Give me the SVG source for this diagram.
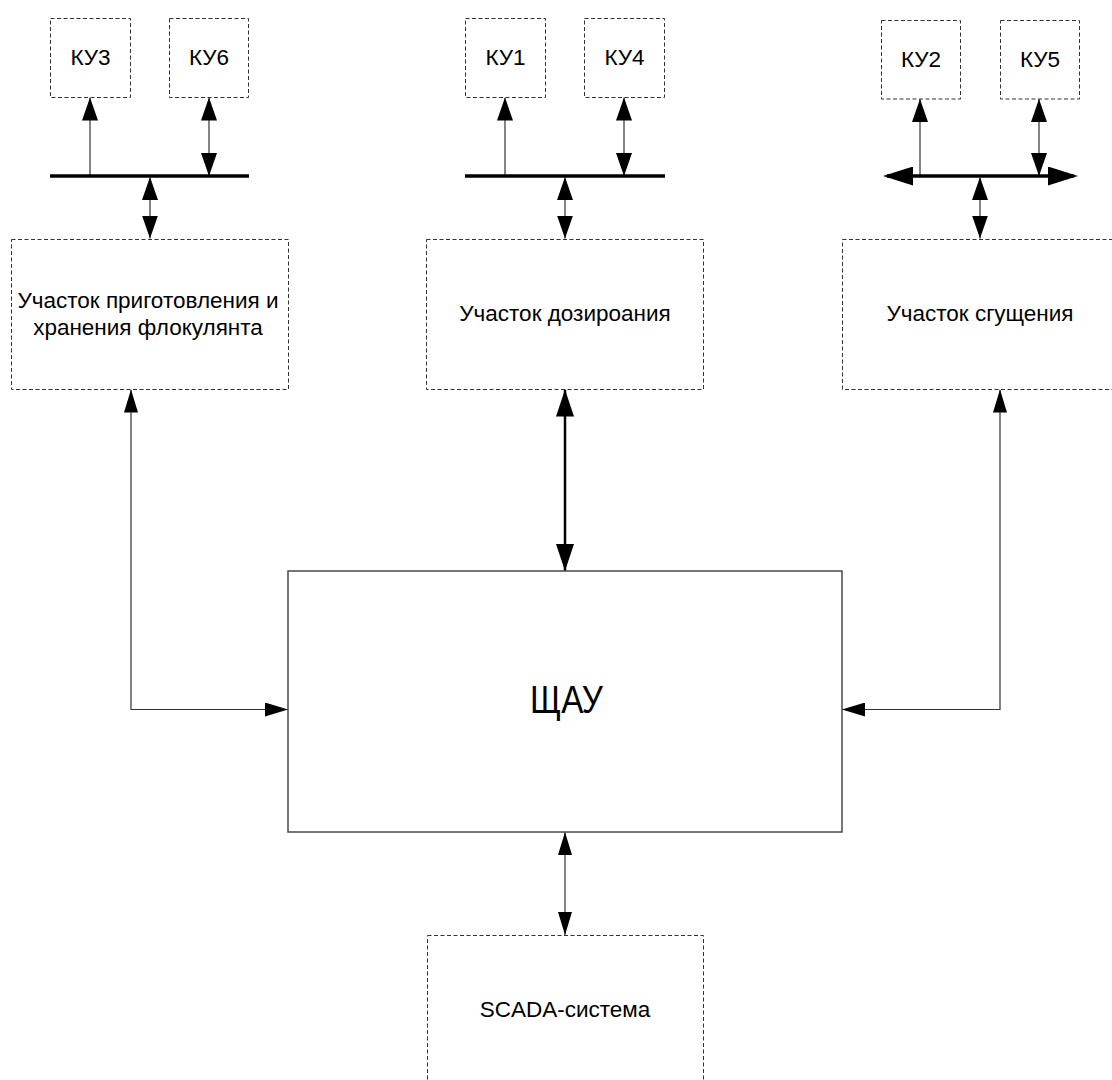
<svg xmlns="http://www.w3.org/2000/svg" width="1112" height="1080" viewBox="0 0 1112 1080">
<style>
  .dbox { fill: #ffffff; stroke: #333333; stroke-width: 1; stroke-dasharray: 4 2.5; }
  .sbox { fill: #ffffff; stroke: #4a4a4a; stroke-width: 1.5; }
  .lbl { font-family: "Liberation Sans", Arial, sans-serif; font-size: 22.5px; fill: #000000; text-anchor: middle; }
  .big { font-family: "Liberation Sans", Arial, sans-serif; font-size: 38px; fill: #000000; text-anchor: middle; }
  .thin { fill: none; stroke: #333333; stroke-width: 1.2; }
  .bus { fill: none; stroke: #000000; stroke-width: 3.5; }
  .thick { fill: none; stroke: #000000; stroke-width: 2.5; }
</style>
<defs>
  <marker id="a" markerUnits="userSpaceOnUse" markerWidth="23" markerHeight="16" refX="23" refY="8" orient="auto-start-reverse">
    <path d="M0,0 L23,8 L0,16 Z" fill="#000000"/>
  </marker>
  <marker id="as" markerUnits="userSpaceOnUse" markerWidth="23" markerHeight="14" refX="23" refY="7" orient="auto-start-reverse">
    <path d="M0,0 L23,7 L0,14 Z" fill="#000000"/>
  </marker>
  <marker id="ab" markerUnits="userSpaceOnUse" markerWidth="27" markerHeight="18" refX="27" refY="9" orient="auto-start-reverse">
    <path d="M0,0 L27,9 L0,18 Z" fill="#000000"/>
  </marker>
  <marker id="abus" markerUnits="userSpaceOnUse" markerWidth="30" markerHeight="19" refX="26" refY="9.5" orient="auto-start-reverse">
    <path d="M0,0 L30,9.5 L0,19 Z" fill="#000000"/>
  </marker>
</defs>

<g id="connectors">
  <!-- left cluster -->
  <line class="thin" x1="90" y1="176" x2="90" y2="97.5" marker-end="url(#a)"/>
  <line class="thin" x1="209" y1="97.5" x2="209" y2="176" marker-start="url(#a)" marker-end="url(#a)"/>
  <line class="bus" x1="50" y1="176" x2="249" y2="176"/>
  <line class="thin" x1="150" y1="177" x2="150" y2="238.5" marker-start="url(#a)" marker-end="url(#a)"/>
  <!-- middle cluster -->
  <line class="thin" x1="505" y1="176" x2="505" y2="97.5" marker-end="url(#a)"/>
  <line class="thin" x1="624" y1="97.5" x2="624" y2="176" marker-start="url(#a)" marker-end="url(#a)"/>
  <line class="bus" x1="465" y1="176" x2="665" y2="176"/>
  <line class="thin" x1="565" y1="177" x2="565" y2="238.5" marker-start="url(#a)" marker-end="url(#a)"/>
  <!-- right cluster -->
  <line class="thin" x1="920" y1="176" x2="920" y2="99" marker-end="url(#a)"/>
  <line class="thin" x1="1039" y1="99" x2="1039" y2="176" marker-start="url(#a)" marker-end="url(#a)"/>
  <line class="bus" x1="887" y1="176" x2="1074" y2="176" marker-start="url(#abus)" marker-end="url(#abus)"/>
  <line class="thin" x1="980" y1="177" x2="980" y2="238.5" marker-start="url(#a)" marker-end="url(#a)"/>
  <!-- to ЩАУ -->
  <line class="thick" x1="565" y1="389.5" x2="565" y2="571" marker-start="url(#ab)" marker-end="url(#ab)"/>
  <path class="thin" d="M131,389.5 V709.5 H288" marker-start="url(#as)" marker-end="url(#as)"/>
  <path class="thin" d="M1000,389.5 V709.5 H842" marker-start="url(#as)" marker-end="url(#as)"/>
  <line class="thin" x1="565" y1="832" x2="565" y2="935" marker-start="url(#as)" marker-end="url(#as)"/>
</g>

<g id="ku3"><rect class="dbox" x="50.5" y="18.5" width="80" height="79"/><text class="lbl" x="90.5" y="65">КУ3</text></g>
<g id="ku6"><rect class="dbox" x="169.5" y="18.5" width="79" height="79"/><text class="lbl" x="209" y="65">КУ6</text></g>
<g id="ku1"><rect class="dbox" x="465.5" y="18.5" width="80" height="79"/><text class="lbl" x="505.5" y="65">КУ1</text></g>
<g id="ku4"><rect class="dbox" x="584.5" y="18.5" width="80" height="79"/><text class="lbl" x="624.5" y="65">КУ4</text></g>
<g id="ku2"><rect class="dbox" x="881.5" y="20.5" width="79" height="78.5"/><text class="lbl" x="921" y="66.5">КУ2</text></g>
<g id="ku5"><rect class="dbox" x="1000.5" y="20.5" width="79" height="78.5"/><text class="lbl" x="1040" y="66.5">КУ5</text></g>

<g id="area-floc">
  <rect class="dbox" x="11.5" y="239.5" width="277" height="150"/>
  <text class="lbl" x="148" y="308">Участок приготовления и</text>
  <text class="lbl" x="148" y="335">хранения флокулянта</text>
</g>
<g id="area-dose">
  <rect class="dbox" x="426.5" y="239.5" width="277" height="150"/>
  <text class="lbl" x="565" y="321">Участок дозироания</text>
</g>
<g id="area-thick">
  <rect class="dbox" x="842.5" y="239.5" width="276" height="150"/>
  <text class="lbl" x="980" y="321">Участок сгущения</text>
</g>

<g id="shau">
  <rect class="sbox" x="288" y="571" width="554" height="261"/>
  <text class="big" x="566.5" y="713" textLength="73" lengthAdjust="spacingAndGlyphs">ЩАУ</text>
</g>

<g id="scada">
  <rect class="dbox" x="427.5" y="935.5" width="276" height="160"/>
  <text class="lbl" x="565" y="1017">SCADA-система</text>
</g>
</svg>
